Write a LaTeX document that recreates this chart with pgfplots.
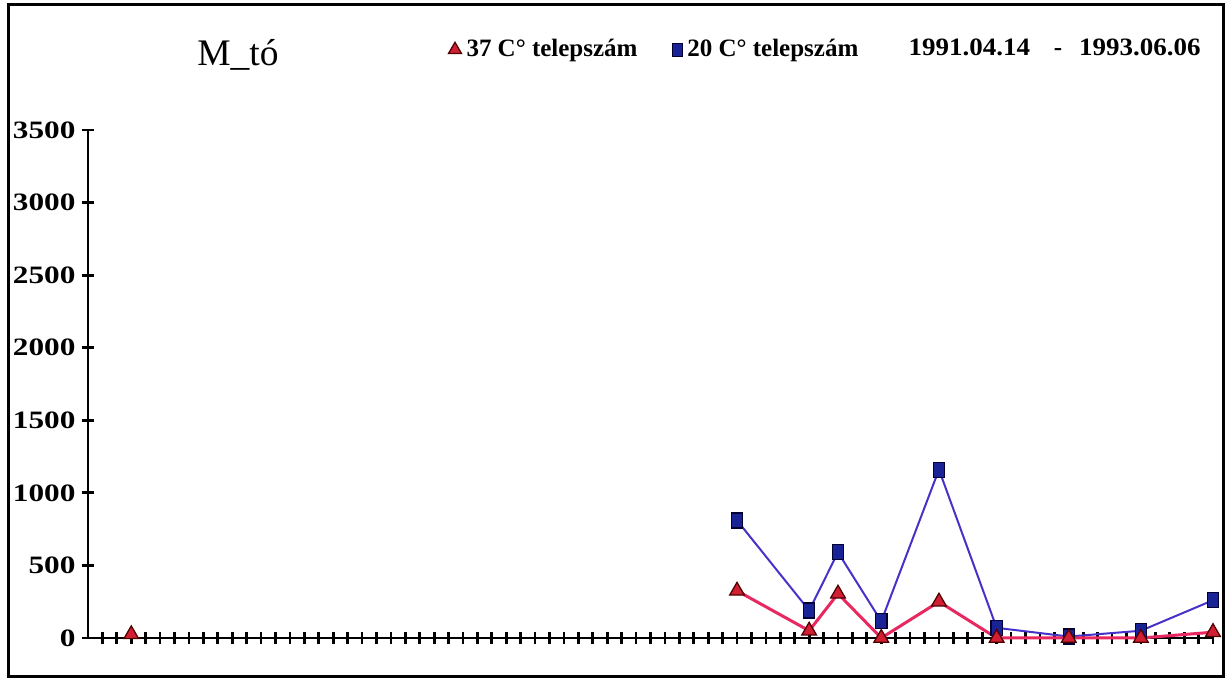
\documentclass[border=0pt]{standalone}
\usepackage{pgfplots}
\pgfplotsset{compat=1.18}
\usepackage{fontspec}
\setmainfont{Liberation Serif}
\definecolor{redline}{RGB}{232,40,95}
\definecolor{redmark}{RGB}{210,30,50}
\definecolor{blueline}{RGB}{70,50,200}
\definecolor{bluemark}{RGB}{25,35,150}
\begin{document}
\begin{tikzpicture}[x=1pt,y=1pt]
\path (0,0) rectangle (490.4,272.8);
\draw[line width=1.2pt] (3.2,2.0) rectangle (489.2,270.8);
\begin{axis}[
  at={(35.2pt,17.6pt)}, anchor=origin,
  scale only axis, width=450pt, height=203.2pt,
  xmin=0, xmax=78, ymin=0, ymax=3500,
  axis x line=bottom, axis y line=left,
  axis line style={line width=1pt,-},
  xtick={1,...,78}, xticklabels={},
  ytick={0,500,...,3500},
  tick align=center, major tick length=5pt,
  tick style={line width=1.1pt,black},
  /pgf/number format/assume math mode=true,
  /pgf/number format/1000 sep={},
  yticklabel style={font=\bfseries\fontsize{10}{12}\selectfont, xshift=1pt},
  yticklabel={\scalebox{1.25}[1]{\pgfmathprintnumber{\tick}}},
  clip=false,
  unbounded coords=jump,
  legend columns=2,
  legend style={draw=none, fill=none, at={(0.32,1.158)}, anchor=west,
    font=\bfseries\fontsize{10}{12}\selectfont,
    /tikz/every even column/.append style={column sep=12pt},
    inner sep=0pt},
  legend cell align=left,
  legend image code/.code={\draw[#1] plot coordinates {(0.1cm,0cm)};},
]
\addplot[blueline, line width=0.8pt, mark=square*, mark size=3pt,
  mark options={xscale=0.75, fill=bluemark, draw=black!80!blue, line width=0.5pt}, forget plot]
  coordinates {(45,810) (50,190) (52,590) (55,115) (59,1160) (63,70) (68,10) (73,50) (78,260)};
\addplot[redline, line width=1.2pt, mark=triangle*, mark size=3.4pt,
  mark options={fill=redmark, draw=black!70!red, line width=0.5pt}, forget plot]
  coordinates {(3,25) (4,nan) (45,325) (50,50) (52,305) (55,0) (59,250) (63,0) (68,0) (73,0) (78,40)};
\addlegendimage{only marks, mark=triangle*, mark size=3pt, mark options={fill=redmark, draw=black!70!red, line width=0.5pt}}
\addlegendentry{37 C° telepszám}
\addlegendimage{only marks, mark=square*, mark size=2.6pt, mark options={xscale=0.75, fill=bluemark, draw=black!80!blue, line width=0.5pt}}
\addlegendentry{20 C° telepszám}
\end{axis}
\node[font=\fontsize{15}{18}\selectfont] at (95.2,250.8) {M\_tó};
\node[font=\bfseries\fontsize{10}{12}\selectfont, anchor=base west, inner sep=0pt] at (363.2,250.4) {\scalebox{1.08}[1]{1991.04.14}};
\node[font=\bfseries\fontsize{10}{12}\selectfont, anchor=base, inner sep=0pt] at (423.2,250.4) {-};
\node[font=\bfseries\fontsize{10}{12}\selectfont, anchor=base east, inner sep=0pt] at (480.4,250.4) {\scalebox{1.08}[1]{1993.06.06}};
\end{tikzpicture}
\end{document}
